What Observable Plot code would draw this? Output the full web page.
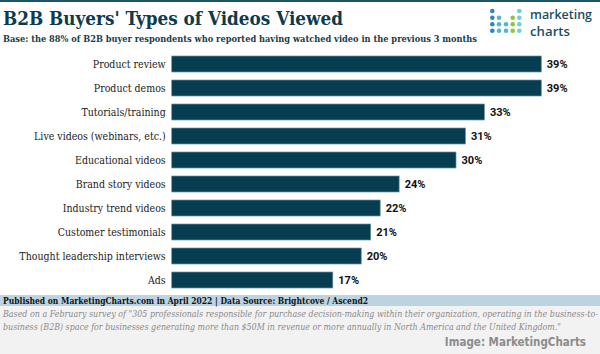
<!DOCTYPE html>
<html>
<head>
<meta charset="utf-8">
<script src="https://cdn.jsdelivr.net/npm/d3@7"></script>
<script src="https://cdn.jsdelivr.net/npm/@observablehq/plot@0.6"></script>
<style>
  html, body { margin: 0; padding: 0; background: #ffffff; }
  #wrap { position: relative; width: 600px; height: 354px; overflow: hidden; background: #ffffff; }
  #header { position: absolute; left: 0; top: 0; }
  #chart { position: absolute; left: 0; top: 48px; }
  #footer { position: absolute; left: 0; top: 294px; }
  svg { display: block; }
</style>
</head>
<body>
<div id="wrap">
  <svg id="header" width="600" height="48"></svg>
  <div id="chart"></div>
  <svg id="footer" width="600" height="60"></svg>
</div>
<script>
// ---- data ----
const categories = [
  "Product review",
  "Product demos",
  "Tutorials/training",
  "Live videos (webinars, etc.)",
  "Educational videos",
  "Brand story videos",
  "Industry trend videos",
  "Customer testimonials",
  "Thought leadership interviews",
  "Ads"
];
const values = [39, 39, 33, 31, 30, 24, 22, 21, 20, 17];
const valueLabels = ["39%", "39%", "33%", "31%", "30%", "24%", "22%", "21%", "20%", "17%"];

const titleText = "B2B Buyers' Types of Videos Viewed";
const subtitleText = "Base: the 88% of B2B buyer respondents who reported having watched video in the previous 3 months";
const publishedText = "Published on MarketingCharts.com in April 2022 | Data Source: Brightcove / Ascend2";
const noteLines = [
  "Based on a February survey of \"305 professionals responsible for purchase decision-making within their organization, operating in the business-to-",
  "business (B2B) space for businesses generating more than $50M in revenue or more annually in North America and the United Kingdom.\""
];
const creditText = "Image: MarketingCharts";
const logoWords = ["marketing", "charts"];

const data = categories.map((c, i) => ({category: c, value: values[i], label: valueLabels[i]}));

const SERIF = "'DejaVu Serif Condensed', 'DejaVu Serif', serif";
const NS = "http://www.w3.org/2000/svg";

function addText(svg, txt, attrs) {
  const t = document.createElementNS(NS, "text");
  for (const k in attrs) t.setAttribute(k, attrs[k]);
  t.textContent = txt;
  svg.appendChild(t);
  return t;
}
function addRect(svg, attrs) {
  const r = document.createElementNS(NS, "rect");
  for (const k in attrs) r.setAttribute(k, attrs[k]);
  svg.appendChild(r);
}
function addCircle(svg, attrs) {
  const c = document.createElementNS(NS, "circle");
  for (const k in attrs) c.setAttribute(k, attrs[k]);
  svg.appendChild(c);
}

// ---- header ----
const header = document.getElementById("header");
addRect(header, {x: 0, y: 0, width: 600, height: 2, fill: "#1d566a"});
addText(header, titleText, {x: 3, y: 25, "font-family": SERIF, "font-weight": "bold", "font-size": 19, fill: "#0f3a4e", textLength: 340, lengthAdjust: "spacingAndGlyphs"});
addText(header, subtitleText, {x: 3, y: 41.5, "font-family": SERIF, "font-weight": "bold", "font-size": 10, fill: "#173c4d", textLength: 474, lengthAdjust: "spacingAndGlyphs"});

// logo (decorative)
const dotCols = [492.3, 499, 506, 512.7, 519.3];
const dotRows = [11, 17.7, 24.3, 30.7];
const dotPattern = [
  [1, 0, 0, 0, 1],
  [1, 1, 0, 1, 1],
  [1, 1, 1, 1, 1],
  [1, 1, 1, 1, 1]
];
const dotColors = [
  ["#2f86b8", null, null, null, "#6cd0d6"],
  ["#2f86b8", "#4fb8cc", null, "#8cc63f", "#6cd0d6"],
  ["#2f86b8", "#4fb8cc", "#4fb8cc", "#8cc63f", "#6cd0d6"],
  ["#2f86b8", "#4fb8cc", "#4fb8cc", "#8cc63f", "#6cd0d6"]
];
dotRows.forEach((cy, r) => dotCols.forEach((cx, c) => {
  if (dotPattern[r][c]) addCircle(header, {cx, cy, r: 2.3, fill: dotColors[r][c]});
}));
addText(header, logoWords[0], {x: 530, y: 19, "font-family": "'Open Sans', sans-serif", "font-weight": 600, "font-size": 12, fill: "#1e4d61", textLength: 62, lengthAdjust: "spacingAndGlyphs"});
addText(header, logoWords[1], {x: 530, y: 35.5, "font-family": "'Open Sans', sans-serif", "font-weight": 600, "font-size": 12, fill: "#1e4d61", textLength: 40, lengthAdjust: "spacingAndGlyphs"});

// ---- chart ----
const chart = Plot.plot({
  width: 600,
  height: 246,
  marginLeft: 171.7,
  marginRight: 58.7,
  marginTop: 2.7,
  marginBottom: 1.3,
  style: {fontFamily: SERIF, fontSize: "10.5px", color: "#222", background: "transparent", overflow: "visible"},
  x: {domain: [0, 39], axis: null},
  y: {domain: categories, paddingInner: 0.33, paddingOuter: 0.165, label: null, tickSize: 0, tickPadding: 6.5},
  marks: [
    Plot.barX(data, {x: "value", y: "category", fill: "#063d50", stroke: "#6f93a1", strokeWidth: 0.7}),
    Plot.text(data, {x: "value", y: "category", text: "label", textAnchor: "start", dx: 5, fontFamily: "Roboto, sans-serif", fontWeight: "bold", fontSize: 11, fill: "#111"})
  ]
});
document.getElementById("chart").appendChild(chart);

// ---- footer ----
const footer = document.getElementById("footer");
addRect(footer, {x: 0, y: 1, width: 600, height: 11, fill: "#bcd3e1"});
addRect(footer, {x: 0, y: 12, width: 600, height: 48, fill: "#f2f2f2"});
addText(footer, publishedText, {x: 3, y: 9.5, "font-family": SERIF, "font-weight": "bold", "font-size": 9.5, fill: "#111", textLength: 365, lengthAdjust: "spacingAndGlyphs"});
addText(footer, noteLines[0], {x: 3, y: 22.7, "font-family": SERIF, "font-style": "italic", "font-size": 8.5, fill: "#8a8a8a", textLength: 595, lengthAdjust: "spacingAndGlyphs"});
addText(footer, noteLines[1], {x: 3, y: 35.5, "font-family": SERIF, "font-style": "italic", "font-size": 8.5, fill: "#8a8a8a", textLength: 558, lengthAdjust: "spacingAndGlyphs"});
addText(footer, creditText, {x: 586, y: 52, "text-anchor": "end", "font-family": "'DejaVu Sans Condensed', 'DejaVu Sans', sans-serif", "font-weight": "bold", "font-size": 11.5, fill: "#8c8c8c"});
</script>
</body>
</html>
